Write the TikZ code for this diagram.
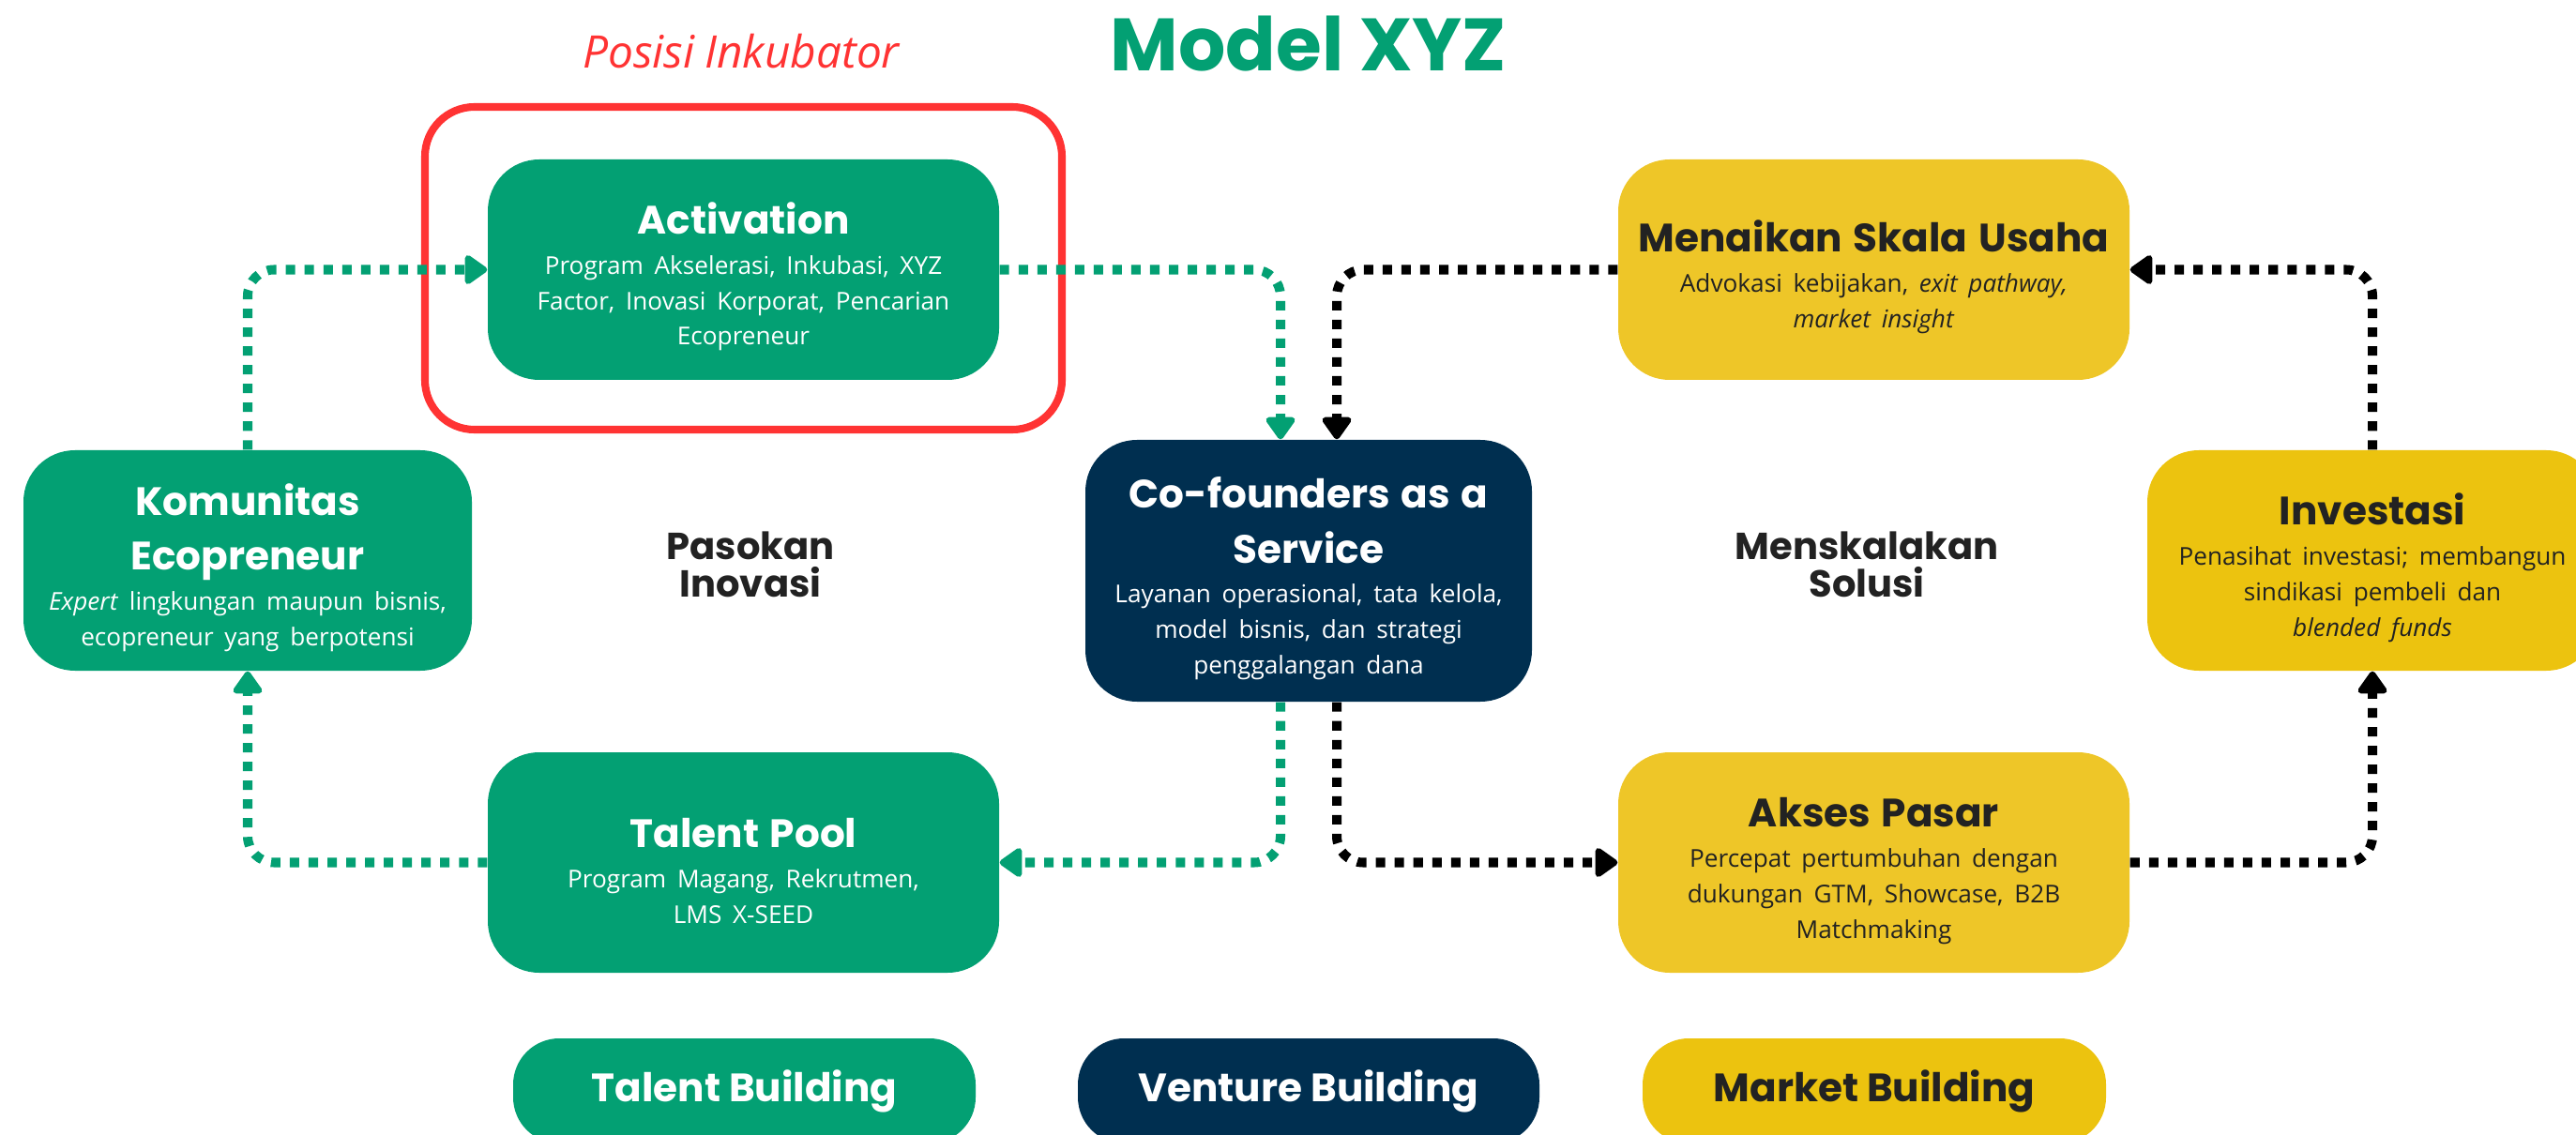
\documentclass[tikz,border=0pt]{standalone}
\usepackage{fontspec}
\setmainfont{Open Sans}[WordSpace=0.88]
\newfontfamily\popfont{Poppins}
\usetikzlibrary{arrows.meta}
\definecolor{xgreen}{HTML}{03A073}
\definecolor{xnavy}{HTML}{002F50}
\definecolor{xyellow}{HTML}{EEC628}
\definecolor{xgold}{HTML}{ECC30F}
\definecolor{xred}{HTML}{FF3333}
\definecolor{xdark}{HTML}{222222}
\newcommand{\boxhead}[1]{{\popfont\bfseries\fontsize{12}{16.6}\selectfont\rule{0pt}{14pt}#1\par}\vspace{1.5pt}}
\newcommand{\boxbody}[1]{{\fontsize{7.45}{10.7}\selectfont #1\par}}
\tikzset{
  stage/.style={rounded corners=15.6pt, inner sep=0pt, align=center,
    minimum width=5.45cm, text width=5.3cm, minimum height=2.35cm},
  pill/.style={rounded corners=14pt, inner sep=0pt, minimum height=1.12cm,
    font=\popfont\bfseries\fontsize{12}{14}\selectfont},
  side/.style={align=center, text=xdark, font=\popfont\bfseries\fontsize{11.4}{11.4}\selectfont},
  flow/.style={line width=2.85pt, dash pattern=on 2.85pt off 2.85pt, rounded corners=8pt,
    -{Triangle[length=7.5pt,width=10pt,round]}}
}
\begin{document}
\begin{tikzpicture}
    \useasboundingbox (0,0) rectangle (27.46,12.09);
    \clip (0,0) rectangle (27.46,12.09);

    \node[text=xgreen, anchor=base, font=\popfont\bfseries\fontsize{22.5}{27}\selectfont] (title) at (13.95,11.33) {Model XYZ};
    \node[text=xred, anchor=base, font=\itshape\fontsize{13.6}{16}\selectfont] (posisi) at (7.9,11.36) {Posisi Inkubator};
    \draw[xred, line width=2.3pt, rounded corners=15pt] (4.53,7.51) rectangle (11.32,10.95);

    \node[stage, fill=xgreen, text=white] (act) at (7.925,9.215)
        {\boxhead{Activation}\boxbody{Program Akselerasi, Inkubasi, XYZ\\Factor, Inovasi Korporat, Pencarian\\Ecopreneur}};
    \node[stage, fill=xgreen, text=white, minimum width=4.78cm, text width=4.7cm] (kom) at (2.64,6.115)
        {\boxhead{Komunitas\\Ecopreneur}\boxbody{\textit{Expert} lingkungan maupun bisnis,\\ecopreneur yang berpotensi}};
    \node[stage, fill=xnavy, text=white, minimum width=4.76cm, text width=4.7cm, minimum height=2.79cm] (cof) at (13.95,6.005)
        {\boxhead{Co-founders as a\\Service}\boxbody{Layanan operasional, tata kelola,\\model bisnis, dan strategi\\penggalangan dana}};
    \node[stage, fill=xgreen, text=white] (tal) at (7.925,2.895)
        {\boxhead{Talent Pool}\boxbody{Program Magang, Rekrutmen,\\LMS X-SEED}};
    \node[stage, fill=xyellow, text=xdark] (men) at (19.975,9.215)
        {\boxhead{Menaikan Skala Usaha}\boxbody{Advokasi kebijakan, \textit{exit pathway,}\\\textit{market insight}}};
    \node[stage, fill=xgold, text=xdark, minimum width=4.8cm, text width=4.7cm] (inv) at (25.29,6.115)
        {\boxhead{Investasi}\boxbody{Penasihat investasi; membangun\\sindikasi pembeli dan\\\textit{blended funds}}};
    \node[stage, fill=xyellow, text=xdark] (akp) at (19.975,2.895)
        {\boxhead{Akses Pasar}\boxbody{Percepat pertumbuhan dengan\\dukungan GTM, Showcase, B2B\\Matchmaking}};

    \node[side] (pasokan) at (8.0,6.07) {Pasokan\\Inovasi};
    \node[side] (menskala) at (19.9,6.07) {Menskalakan\\Solusi};

    \node[pill, fill=xgreen, text=white, minimum width=4.93cm] (talentb) at (7.935,0.46) {Talent Building};
    \node[pill, fill=xnavy, text=white, minimum width=4.92cm] (ventureb) at (13.95,0.46) {Venture Building};
    \node[pill, fill=xgold, text=xdark, minimum width=4.94cm] (marketb) at (19.98,0.46) {Market Building};

    \draw[flow, xgreen] (kom.north) |- (act.west);
    \draw[flow, xgreen] (act.east) -| ([xshift=-0.3cm]cof.north);
    \draw[flow, xgreen] ([xshift=-0.3cm]cof.south) |- (tal.east);
    \draw[flow, xgreen] (tal.west) -| (kom.south);
    \draw[flow, black] (men.west) -| ([xshift=0.3cm]cof.north);
    \draw[flow, black] ([xshift=0.3cm]cof.south) |- (akp.west);
    \draw[flow, black] (akp.east) -| (inv.south);
    \draw[flow, black] (inv.north) |- (men.east);
\end{tikzpicture}
\end{document}
